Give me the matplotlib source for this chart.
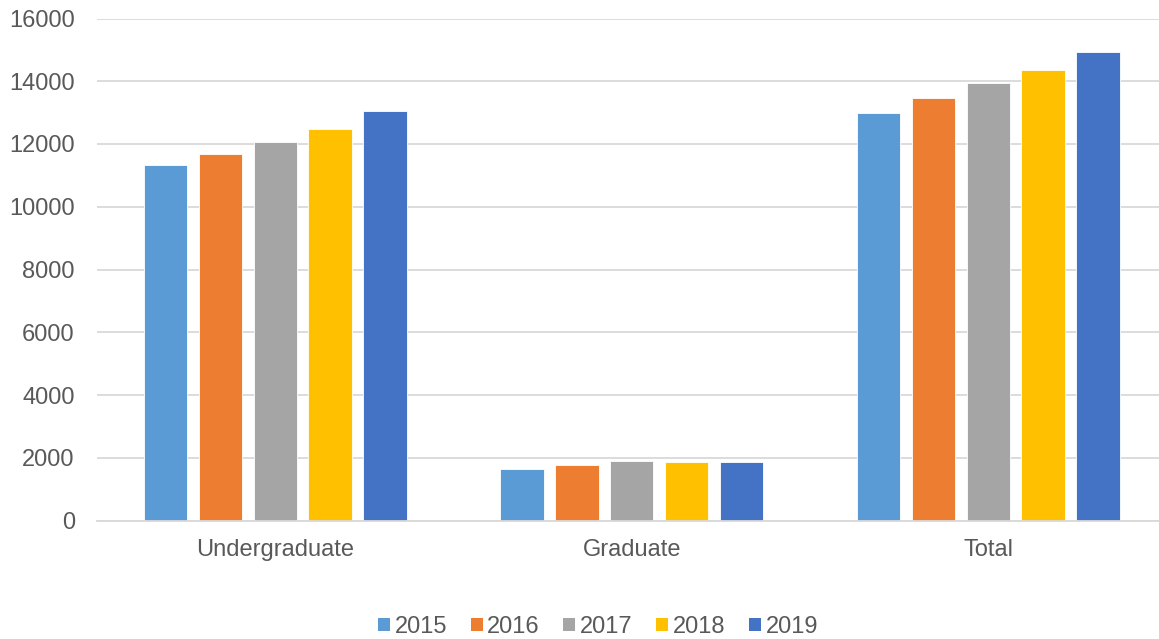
import matplotlib
matplotlib.use("Agg")
import matplotlib.pyplot as plt
from matplotlib.patches import Patch
import numpy as np

categories = ["Undergraduate", "Graduate", "Total"]
years = ["2015", "2016", "2017", "2018", "2019"]
enrollment_2015 = [11330, 1650, 12980]
enrollment_2016 = [11690, 1780, 13470]
enrollment_2017 = [12070, 1890, 13960]
enrollment_2018 = [12480, 1880, 14360]
enrollment_2019 = [13060, 1880, 14940]
series = [enrollment_2015, enrollment_2016, enrollment_2017,
          enrollment_2018, enrollment_2019]
colors = ["#5b9bd5", "#ed7d31", "#a5a5a5", "#ffc000", "#4472c4"]
y_ticks = [0, 2000, 4000, 6000, 8000, 10000, 12000, 14000, 16000]

plt.rcParams["font.family"] = ["Liberation Sans", "DejaVu Sans"]

fig = plt.figure(figsize=(11.59, 6.39), dpi=100)
ax = fig.add_axes([97 / 1159, 1 - 520.5 / 639, 1069.5 / 1159, (520.5 - 18.5) / 639])

x = np.arange(len(categories))
pitch = 0.154
width = 0.122
for i, (vals, c) in enumerate(zip(series, colors)):
    ax.bar(x + (i - 2) * pitch, vals, width=width, color=c, zorder=3,
           edgecolor="white", linewidth=0.6)

ax.set_xlim(-0.5, 2.5)
ax.set_ylim(0, 16000)
ax.set_yticks(y_ticks)
ax.set_yticklabels([str(t) for t in y_ticks])
ax.set_xticks(x)
ax.set_xticklabels(categories)
ax.yaxis.grid(True, color="#d9d9d9", linewidth=1.3, zorder=0)
ax.tick_params(axis="both", length=0, labelsize=17, colors="#595959")
ax.tick_params(axis="y", pad=16)
ax.tick_params(axis="x", pad=13)
for s in ["top", "right", "left"]:
    ax.spines[s].set_visible(False)
ax.spines["bottom"].set_color("#d9d9d9")
ax.spines["bottom"].set_linewidth(1.3)
ax.spines["bottom"].set_zorder(4)

handles = [Patch(facecolor=c, label=y) for c, y in zip(colors, years)]
fig.legend(handles=handles, loc="center", bbox_to_anchor=(598 / 1159, 1 - 627 / 639),
           ncol=5, frameon=False, fontsize=17, handlelength=0.5, handleheight=0.5,
           handletextpad=0.2, columnspacing=1.0, labelcolor="#595959")

fig.savefig("out.png", dpi=100)
